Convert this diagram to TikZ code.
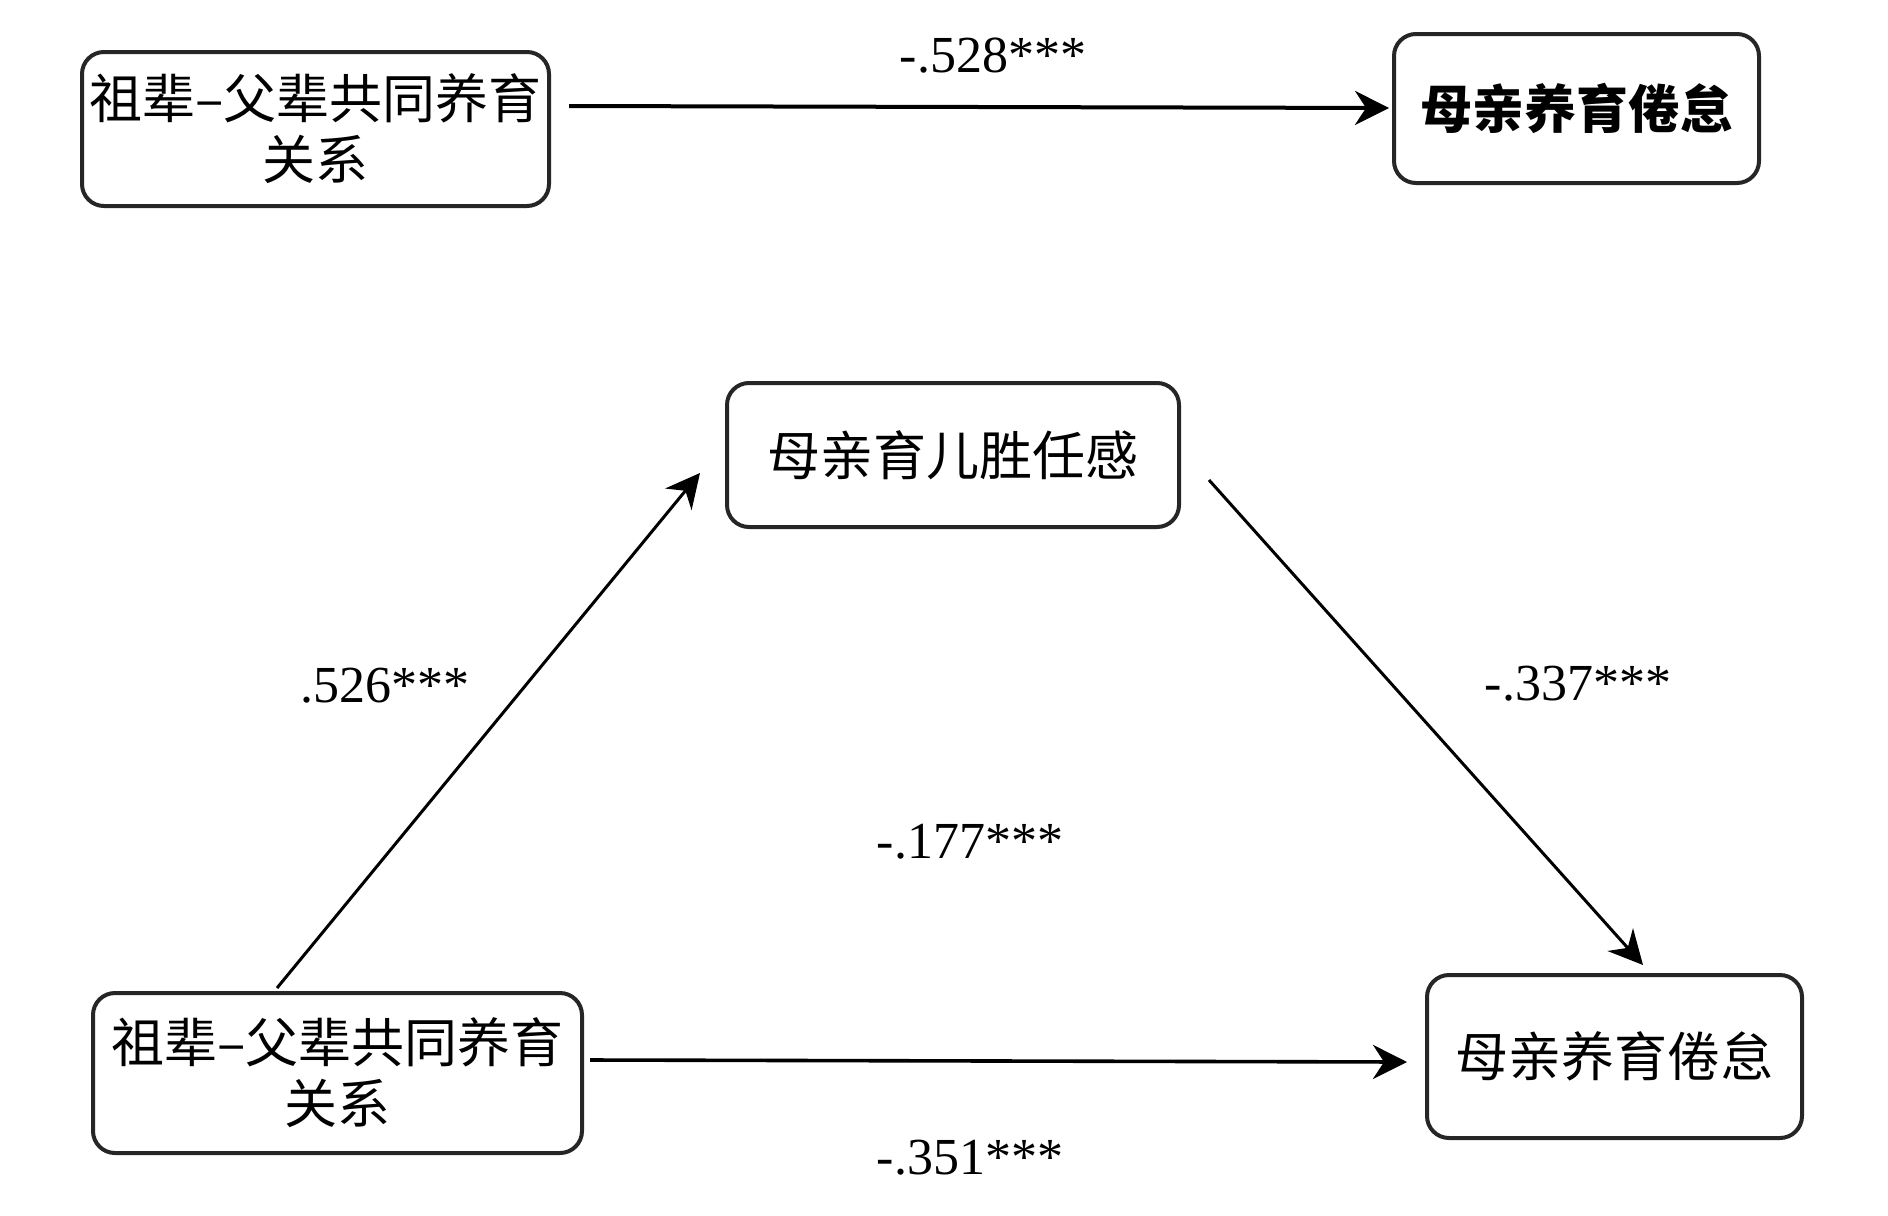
\documentclass[tikz,border=0pt]{standalone}
\usepackage{fontspec}
\setmainfont{Liberation Serif}
\newfontfamily\cjk{Noto Sans CJK SC}
\usetikzlibrary{arrows.meta,calc}
\begin{document}
\begin{tikzpicture}[x=0.5pt,y=-0.5pt,
  box/.style={draw=black!85, line width=2pt, rounded corners=11pt, inner sep=0pt, align=center,
              font=\cjk\fontsize{26.5}{30.5}\selectfont},
  arr/.style={draw=black, line width=1.5pt, -{Stealth[length=17pt,width=17pt,inset=5.5pt]}},
  lab/.style={font=\fontsize{26}{30}\selectfont, anchor=base, inner sep=0pt}]
\useasboundingbox (0,0) rectangle (1888,1215);
% boxes
\node[box, minimum width=233.5pt, minimum height=77pt] (tl) at (315.5,129) {祖辈–父辈共同养育\\关系};
\node[box, minimum width=182.5pt, minimum height=74.5pt, font=\cjk\bfseries\fontsize{26}{30.5}\selectfont] (tr) at (1576.5,108.5) {母亲养育倦怠};
\node[box, minimum width=226pt, minimum height=72pt] (mid) at (953,455) {母亲育儿胜任感};
\node[box, minimum width=244.5pt, minimum height=80pt] (bl) at (337.5,1073) {祖辈–父辈共同养育\\关系};
\node[box, minimum width=187.5pt, minimum height=81.5pt] (br) at (1614.5,1056.5) {母亲养育倦怠};
% connectors
\draw[arr, line width=2pt] ($(tl.east)+(18,-23)$) -- ($(tr.west)+(-3,-0.5)$);
\draw[arr] ($(bl.north west)+(186,-3)$) -- ($(mid.west)+(-25,18)$);
\draw[arr] ($(mid.east)+(28,25)$) -- ($(br.north west)+(218,-8)$);
\draw[arr, line width=1.8pt] ($(bl.east)+(6,-13)$) -- ($(br.west)+(-18,5.5)$);
% labels
\node[lab] (l1) at (993,72) {-.528***};
\node[lab] (l2) at (385,702) {.526***};
\node[lab] (l3) at (1578,700) {-.337***};
\node[lab] (l4) at (970,858) {-.177***};
\node[lab] (l5) at (970,1174) {-.351***};
\end{tikzpicture}
\end{document}
